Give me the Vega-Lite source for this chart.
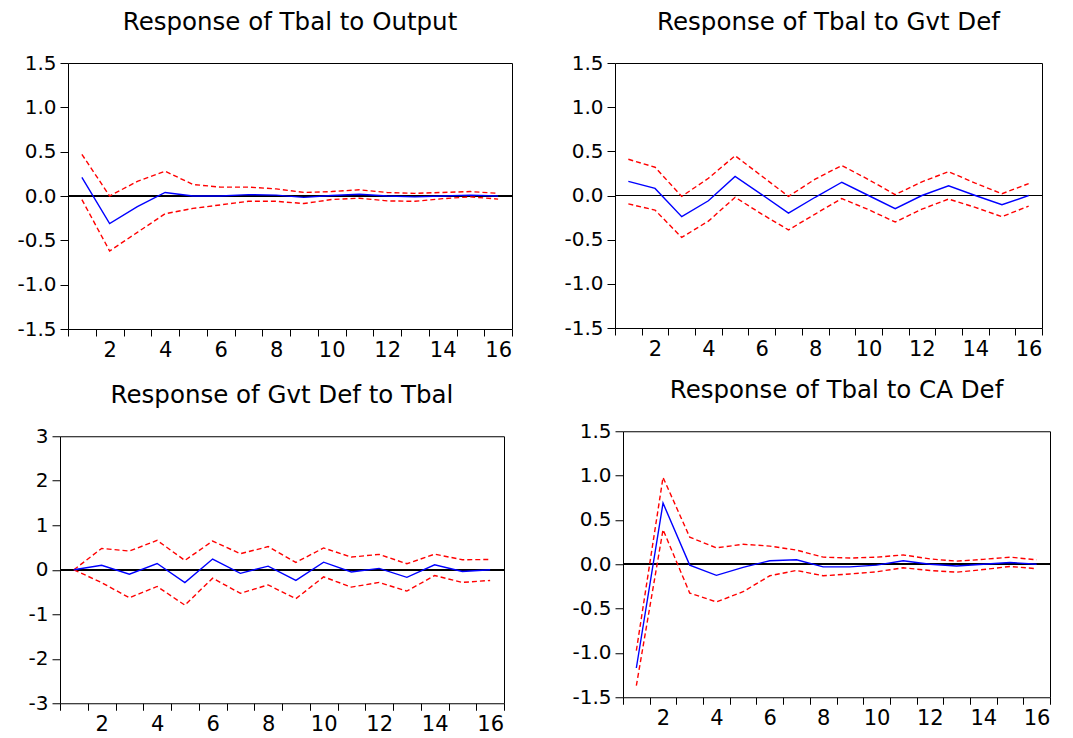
{
  "$schema": "https://vega.github.io/schema/vega-lite/v6.json",
  "padding": {"left": 5, "top": 9, "right": 5, "bottom": 5},
  "background": "white",
  "config": {
    "font": "DejaVu Sans",
    "view": {"stroke": "#000000", "strokeWidth": 1},
    "axis": {"labelFont": "DejaVu Sans", "labelColor": "#000000", "tickColor": "#000000", "grid": false, "domain": false, "title": null, "labelFlush": false},
    "axisX": {"tickSize": 7, "labelPadding": 3, "labelFontSize": 21},
    "axisY": {"tickSize": 8, "labelPadding": 4, "labelFontSize": 20, "labelExpr": "replace(datum.label, '\u2212', '-')"},
    "title": {"font": "DejaVu Sans", "fontSize": 24.5, "fontWeight": "normal", "color": "#000000", "offset": 18}
  },
  "datasets": {
    "irf": [
      {"panel": "p1", "period": 1, "resp": 0.21, "upper": 0.47, "lower": -0.04},
      {"panel": "p1", "period": 2, "resp": -0.31, "upper": 0.0, "lower": -0.62},
      {"panel": "p1", "period": 3, "resp": -0.12, "upper": 0.165, "lower": -0.41},
      {"panel": "p1", "period": 4, "resp": 0.04, "upper": 0.28, "lower": -0.2},
      {"panel": "p1", "period": 5, "resp": 0.0, "upper": 0.13, "lower": -0.14},
      {"panel": "p1", "period": 6, "resp": 0.0, "upper": 0.1, "lower": -0.1},
      {"panel": "p1", "period": 7, "resp": 0.015, "upper": 0.1, "lower": -0.06},
      {"panel": "p1", "period": 8, "resp": 0.01, "upper": 0.08, "lower": -0.06},
      {"panel": "p1", "period": 9, "resp": -0.015, "upper": 0.04, "lower": -0.085},
      {"panel": "p1", "period": 10, "resp": 0.005, "upper": 0.05, "lower": -0.04},
      {"panel": "p1", "period": 11, "resp": 0.02, "upper": 0.07, "lower": -0.025},
      {"panel": "p1", "period": 12, "resp": 0.0, "upper": 0.04, "lower": -0.055},
      {"panel": "p1", "period": 13, "resp": -0.01, "upper": 0.03, "lower": -0.06},
      {"panel": "p1", "period": 14, "resp": 0.0, "upper": 0.04, "lower": -0.03},
      {"panel": "p1", "period": 15, "resp": 0.01, "upper": 0.05, "lower": -0.01},
      {"panel": "p1", "period": 16, "resp": 0.0, "upper": 0.03, "lower": -0.035},

      {"panel": "p2", "period": 1, "resp": 0.16, "upper": 0.41, "lower": -0.095},
      {"panel": "p2", "period": 2, "resp": 0.08, "upper": 0.32, "lower": -0.165},
      {"panel": "p2", "period": 3, "resp": -0.24, "upper": -0.01, "lower": -0.475},
      {"panel": "p2", "period": 4, "resp": -0.06, "upper": 0.195, "lower": -0.29},
      {"panel": "p2", "period": 5, "resp": 0.215, "upper": 0.45, "lower": -0.02},
      {"panel": "p2", "period": 6, "resp": 0.01, "upper": 0.22, "lower": -0.21},
      {"panel": "p2", "period": 7, "resp": -0.2, "upper": -0.01, "lower": -0.39},
      {"panel": "p2", "period": 8, "resp": -0.02, "upper": 0.185, "lower": -0.21},
      {"panel": "p2", "period": 9, "resp": 0.15, "upper": 0.34, "lower": -0.035},
      {"panel": "p2", "period": 10, "resp": 0.0, "upper": 0.18, "lower": -0.16},
      {"panel": "p2", "period": 11, "resp": -0.15, "upper": 0.01, "lower": -0.3},
      {"panel": "p2", "period": 12, "resp": 0.0, "upper": 0.155, "lower": -0.155},
      {"panel": "p2", "period": 13, "resp": 0.11, "upper": 0.27, "lower": -0.04},
      {"panel": "p2", "period": 14, "resp": 0.0, "upper": 0.14, "lower": -0.135},
      {"panel": "p2", "period": 15, "resp": -0.105, "upper": 0.02, "lower": -0.24},
      {"panel": "p2", "period": 16, "resp": 0.0, "upper": 0.135, "lower": -0.12},

      {"panel": "p3", "period": 1, "resp": 0.0, "upper": 0.0, "lower": 0.0},
      {"panel": "p3", "period": 2, "resp": 0.1, "upper": 0.48, "lower": -0.29},
      {"panel": "p3", "period": 3, "resp": -0.1, "upper": 0.42, "lower": -0.63},
      {"panel": "p3", "period": 4, "resp": 0.14, "upper": 0.66, "lower": -0.375},
      {"panel": "p3", "period": 5, "resp": -0.29, "upper": 0.21, "lower": -0.795},
      {"panel": "p3", "period": 6, "resp": 0.24, "upper": 0.645, "lower": -0.19},
      {"panel": "p3", "period": 7, "resp": -0.08, "upper": 0.36, "lower": -0.53},
      {"panel": "p3", "period": 8, "resp": 0.08, "upper": 0.52, "lower": -0.34},
      {"panel": "p3", "period": 9, "resp": -0.24, "upper": 0.165, "lower": -0.65},
      {"panel": "p3", "period": 10, "resp": 0.17, "upper": 0.49, "lower": -0.16},
      {"panel": "p3", "period": 11, "resp": -0.05, "upper": 0.285, "lower": -0.39},
      {"panel": "p3", "period": 12, "resp": 0.03, "upper": 0.345, "lower": -0.285},
      {"panel": "p3", "period": 13, "resp": -0.17, "upper": 0.135, "lower": -0.48},
      {"panel": "p3", "period": 14, "resp": 0.11, "upper": 0.35, "lower": -0.13},
      {"panel": "p3", "period": 15, "resp": -0.04, "upper": 0.225, "lower": -0.285},
      {"panel": "p3", "period": 16, "resp": 0.0, "upper": 0.23, "lower": -0.24},

      {"panel": "p4", "period": 1, "resp": -1.17, "upper": -0.975, "lower": -1.37},
      {"panel": "p4", "period": 2, "resp": 0.69, "upper": 0.98, "lower": 0.39},
      {"panel": "p4", "period": 3, "resp": -0.01, "upper": 0.305, "lower": -0.325},
      {"panel": "p4", "period": 4, "resp": -0.125, "upper": 0.185, "lower": -0.425},
      {"panel": "p4", "period": 5, "resp": -0.035, "upper": 0.225, "lower": -0.31},
      {"panel": "p4", "period": 6, "resp": 0.04, "upper": 0.205, "lower": -0.13},
      {"panel": "p4", "period": 7, "resp": 0.05, "upper": 0.16, "lower": -0.07},
      {"panel": "p4", "period": 8, "resp": -0.03, "upper": 0.08, "lower": -0.13},
      {"panel": "p4", "period": 9, "resp": -0.03, "upper": 0.07, "lower": -0.11},
      {"panel": "p4", "period": 10, "resp": -0.01, "upper": 0.08, "lower": -0.085},
      {"panel": "p4", "period": 11, "resp": 0.04, "upper": 0.105, "lower": -0.04},
      {"panel": "p4", "period": 12, "resp": 0.0, "upper": 0.06, "lower": -0.07},
      {"panel": "p4", "period": 13, "resp": -0.02, "upper": 0.035, "lower": -0.09},
      {"panel": "p4", "period": 14, "resp": 0.0, "upper": 0.055, "lower": -0.06},
      {"panel": "p4", "period": 15, "resp": 0.02, "upper": 0.08, "lower": -0.025},
      {"panel": "p4", "period": 16, "resp": 0.0, "upper": 0.05, "lower": -0.05}
    ]
  },
  "data": {"name": "irf"},
  "spacing": 16,
  "center": true,
  "vconcat": [
    {
      "spacing": 40,
      "hconcat": [
        {
          "width": 444, "height": 266,
          "title": "Response of Tbal to Output",
          "transform": [{"filter": "datum.panel == 'p1'"}],
          "layer": [
            {"mark": {"type": "rule", "color": "#000000", "strokeWidth": 1},
             "encoding": {"y": {"datum": 0, "type": "quantitative", "scale": {"domain": [-1.5, 1.5], "nice": false}, "axis": {"values": [-1.5, -1, -0.5, 0, 0.5, 1, 1.5], "format": ".1f", "minExtent": 60}}}},
            {"mark": {"type": "line", "color": "#ff0000", "strokeDash": [5, 3], "strokeWidth": 1.4},
             "encoding": {"x": {"field": "period", "type": "quantitative", "scale": {"domain": [0.5, 16.5], "nice": false, "zero": false}, "axis": {"values": [0.5, 1.5, 2.5, 3.5, 4.5, 5.5, 6.5, 7.5, 8.5, 9.5, 10.5, 11.5, 12.5, 13.5, 14.5, 15.5, 16.5], "labelExpr": "(datum.value + 0.5) % 2 == 0 ? format(datum.value + 0.5, 'd') : ''", "labelOffset": 13.9}},
                          "y": {"field": "upper", "type": "quantitative", "scale": {"domain": [-1.5, 1.5], "nice": false}, "axis": {"values": [-1.5, -1, -0.5, 0, 0.5, 1, 1.5], "format": ".1f", "minExtent": 60}}}},
            {"mark": {"type": "line", "color": "#ff0000", "strokeDash": [5, 3], "strokeWidth": 1.4},
             "encoding": {"x": {"field": "period", "type": "quantitative", "scale": {"domain": [0.5, 16.5], "nice": false, "zero": false}, "axis": {"values": [0.5, 1.5, 2.5, 3.5, 4.5, 5.5, 6.5, 7.5, 8.5, 9.5, 10.5, 11.5, 12.5, 13.5, 14.5, 15.5, 16.5], "labelExpr": "(datum.value + 0.5) % 2 == 0 ? format(datum.value + 0.5, 'd') : ''", "labelOffset": 13.9}},
                          "y": {"field": "lower", "type": "quantitative", "scale": {"domain": [-1.5, 1.5], "nice": false}, "axis": {"values": [-1.5, -1, -0.5, 0, 0.5, 1, 1.5], "format": ".1f", "minExtent": 60}}}},
            {"mark": {"type": "line", "color": "#0000ff", "strokeWidth": 1.4},
             "encoding": {"x": {"field": "period", "type": "quantitative", "scale": {"domain": [0.5, 16.5], "nice": false, "zero": false}, "axis": {"values": [0.5, 1.5, 2.5, 3.5, 4.5, 5.5, 6.5, 7.5, 8.5, 9.5, 10.5, 11.5, 12.5, 13.5, 14.5, 15.5, 16.5], "labelExpr": "(datum.value + 0.5) % 2 == 0 ? format(datum.value + 0.5, 'd') : ''", "labelOffset": 13.9}},
                          "y": {"field": "resp", "type": "quantitative", "scale": {"domain": [-1.5, 1.5], "nice": false}, "axis": {"values": [-1.5, -1, -0.5, 0, 0.5, 1, 1.5], "format": ".1f", "minExtent": 60}}}}
          ]
        },
        {
          "width": 427, "height": 265,
          "title": "Response of Tbal to Gvt Def",
          "transform": [{"filter": "datum.panel == 'p2'"}],
          "layer": [
            {"mark": {"type": "rule", "color": "#000000", "strokeWidth": 1},
             "encoding": {"y": {"datum": 0, "type": "quantitative", "scale": {"domain": [-1.5, 1.5], "nice": false}, "axis": {"values": [-1.5, -1, -0.5, 0, 0.5, 1, 1.5], "format": ".1f", "minExtent": 61}}}},
            {"mark": {"type": "line", "color": "#ff0000", "strokeDash": [5, 3], "strokeWidth": 1.4},
             "encoding": {"x": {"field": "period", "type": "quantitative", "scale": {"domain": [0.5, 16.5], "nice": false, "zero": false}, "axis": {"values": [0.5, 1.5, 2.5, 3.5, 4.5, 5.5, 6.5, 7.5, 8.5, 9.5, 10.5, 11.5, 12.5, 13.5, 14.5, 15.5, 16.5], "labelExpr": "(datum.value + 0.5) % 2 == 0 ? format(datum.value + 0.5, 'd') : ''", "labelOffset": 13.3}},
                          "y": {"field": "upper", "type": "quantitative", "scale": {"domain": [-1.5, 1.5], "nice": false}, "axis": {"values": [-1.5, -1, -0.5, 0, 0.5, 1, 1.5], "format": ".1f", "minExtent": 61}}}},
            {"mark": {"type": "line", "color": "#ff0000", "strokeDash": [5, 3], "strokeWidth": 1.4},
             "encoding": {"x": {"field": "period", "type": "quantitative", "scale": {"domain": [0.5, 16.5], "nice": false, "zero": false}, "axis": {"values": [0.5, 1.5, 2.5, 3.5, 4.5, 5.5, 6.5, 7.5, 8.5, 9.5, 10.5, 11.5, 12.5, 13.5, 14.5, 15.5, 16.5], "labelExpr": "(datum.value + 0.5) % 2 == 0 ? format(datum.value + 0.5, 'd') : ''", "labelOffset": 13.3}},
                          "y": {"field": "lower", "type": "quantitative", "scale": {"domain": [-1.5, 1.5], "nice": false}, "axis": {"values": [-1.5, -1, -0.5, 0, 0.5, 1, 1.5], "format": ".1f", "minExtent": 61}}}},
            {"mark": {"type": "line", "color": "#0000ff", "strokeWidth": 1.4},
             "encoding": {"x": {"field": "period", "type": "quantitative", "scale": {"domain": [0.5, 16.5], "nice": false, "zero": false}, "axis": {"values": [0.5, 1.5, 2.5, 3.5, 4.5, 5.5, 6.5, 7.5, 8.5, 9.5, 10.5, 11.5, 12.5, 13.5, 14.5, 15.5, 16.5], "labelExpr": "(datum.value + 0.5) % 2 == 0 ? format(datum.value + 0.5, 'd') : ''", "labelOffset": 13.3}},
                          "y": {"field": "resp", "type": "quantitative", "scale": {"domain": [-1.5, 1.5], "nice": false}, "axis": {"values": [-1.5, -1, -0.5, 0, 0.5, 1, 1.5], "format": ".1f", "minExtent": 61}}}}
          ]
        }
      ]
    },
    {
      "spacing": 40,
      "center": true,
      "hconcat": [
        {
          "width": 444, "height": 267,
          "title": "Response of Gvt Def to Tbal",
          "transform": [{"filter": "datum.panel == 'p3'"}],
          "layer": [
            {"mark": {"type": "rule", "color": "#000000", "strokeWidth": 1},
             "encoding": {"y": {"datum": 0, "type": "quantitative", "scale": {"domain": [-3, 3], "nice": false}, "axis": {"values": [-3, -2, -1, 0, 1, 2, 3], "format": "d", "minExtent": 54}}}},
            {"mark": {"type": "line", "color": "#ff0000", "strokeDash": [5, 3], "strokeWidth": 1.4},
             "encoding": {"x": {"field": "period", "type": "quantitative", "scale": {"domain": [0.5, 16.5], "nice": false, "zero": false}, "axis": {"values": [0.5, 1.5, 2.5, 3.5, 4.5, 5.5, 6.5, 7.5, 8.5, 9.5, 10.5, 11.5, 12.5, 13.5, 14.5, 15.5, 16.5], "labelExpr": "(datum.value + 0.5) % 2 == 0 ? format(datum.value + 0.5, 'd') : ''", "labelOffset": 13.9, "minExtent": 32}},
                          "y": {"field": "upper", "type": "quantitative", "scale": {"domain": [-3, 3], "nice": false}, "axis": {"values": [-3, -2, -1, 0, 1, 2, 3], "format": "d", "minExtent": 54}}}},
            {"mark": {"type": "line", "color": "#ff0000", "strokeDash": [5, 3], "strokeWidth": 1.4},
             "encoding": {"x": {"field": "period", "type": "quantitative", "scale": {"domain": [0.5, 16.5], "nice": false, "zero": false}, "axis": {"values": [0.5, 1.5, 2.5, 3.5, 4.5, 5.5, 6.5, 7.5, 8.5, 9.5, 10.5, 11.5, 12.5, 13.5, 14.5, 15.5, 16.5], "labelExpr": "(datum.value + 0.5) % 2 == 0 ? format(datum.value + 0.5, 'd') : ''", "labelOffset": 13.9, "minExtent": 32}},
                          "y": {"field": "lower", "type": "quantitative", "scale": {"domain": [-3, 3], "nice": false}, "axis": {"values": [-3, -2, -1, 0, 1, 2, 3], "format": "d", "minExtent": 54}}}},
            {"mark": {"type": "line", "color": "#0000ff", "strokeWidth": 1.4},
             "encoding": {"x": {"field": "period", "type": "quantitative", "scale": {"domain": [0.5, 16.5], "nice": false, "zero": false}, "axis": {"values": [0.5, 1.5, 2.5, 3.5, 4.5, 5.5, 6.5, 7.5, 8.5, 9.5, 10.5, 11.5, 12.5, 13.5, 14.5, 15.5, 16.5], "labelExpr": "(datum.value + 0.5) % 2 == 0 ? format(datum.value + 0.5, 'd') : ''", "labelOffset": 13.9, "minExtent": 32}},
                          "y": {"field": "resp", "type": "quantitative", "scale": {"domain": [-3, 3], "nice": false}, "axis": {"values": [-3, -2, -1, 0, 1, 2, 3], "format": "d", "minExtent": 54}}}}
          ]
        },
        {
          "width": 427, "height": 266,
          "title": "Response of Tbal to CA Def",
          "transform": [{"filter": "datum.panel == 'p4'"}],
          "layer": [
            {"mark": {"type": "rule", "color": "#000000", "strokeWidth": 1},
             "encoding": {"y": {"datum": 0, "type": "quantitative", "scale": {"domain": [-1.5, 1.5], "nice": false}, "axis": {"values": [-1.5, -1, -0.5, 0, 0.5, 1, 1.5], "format": ".1f", "minExtent": 77}}}},
            {"mark": {"type": "line", "color": "#ff0000", "strokeDash": [5, 3], "strokeWidth": 1.4},
             "encoding": {"x": {"field": "period", "type": "quantitative", "scale": {"domain": [0.5, 16.5], "nice": false, "zero": false}, "axis": {"values": [0.5, 1.5, 2.5, 3.5, 4.5, 5.5, 6.5, 7.5, 8.5, 9.5, 10.5, 11.5, 12.5, 13.5, 14.5, 15.5, 16.5], "labelExpr": "(datum.value + 0.5) % 2 == 0 ? format(datum.value + 0.5, 'd') : ''", "labelOffset": 13.3, "minExtent": 43}},
                          "y": {"field": "upper", "type": "quantitative", "scale": {"domain": [-1.5, 1.5], "nice": false}, "axis": {"values": [-1.5, -1, -0.5, 0, 0.5, 1, 1.5], "format": ".1f", "minExtent": 77}}}},
            {"mark": {"type": "line", "color": "#ff0000", "strokeDash": [5, 3], "strokeWidth": 1.4},
             "encoding": {"x": {"field": "period", "type": "quantitative", "scale": {"domain": [0.5, 16.5], "nice": false, "zero": false}, "axis": {"values": [0.5, 1.5, 2.5, 3.5, 4.5, 5.5, 6.5, 7.5, 8.5, 9.5, 10.5, 11.5, 12.5, 13.5, 14.5, 15.5, 16.5], "labelExpr": "(datum.value + 0.5) % 2 == 0 ? format(datum.value + 0.5, 'd') : ''", "labelOffset": 13.3, "minExtent": 43}},
                          "y": {"field": "lower", "type": "quantitative", "scale": {"domain": [-1.5, 1.5], "nice": false}, "axis": {"values": [-1.5, -1, -0.5, 0, 0.5, 1, 1.5], "format": ".1f", "minExtent": 77}}}},
            {"mark": {"type": "line", "color": "#0000ff", "strokeWidth": 1.4},
             "encoding": {"x": {"field": "period", "type": "quantitative", "scale": {"domain": [0.5, 16.5], "nice": false, "zero": false}, "axis": {"values": [0.5, 1.5, 2.5, 3.5, 4.5, 5.5, 6.5, 7.5, 8.5, 9.5, 10.5, 11.5, 12.5, 13.5, 14.5, 15.5, 16.5], "labelExpr": "(datum.value + 0.5) % 2 == 0 ? format(datum.value + 0.5, 'd') : ''", "labelOffset": 13.3, "minExtent": 43}},
                          "y": {"field": "resp", "type": "quantitative", "scale": {"domain": [-1.5, 1.5], "nice": false}, "axis": {"values": [-1.5, -1, -0.5, 0, 0.5, 1, 1.5], "format": ".1f", "minExtent": 77}}}}
          ]
        }
      ]
    }
  ]
}
